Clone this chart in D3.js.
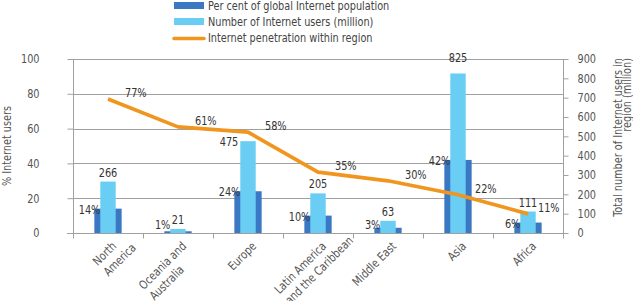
<!DOCTYPE html>
<html>
<head>
<meta charset="utf-8">
<script src="https://cdn.jsdelivr.net/npm/d3@7"></script>
<style>
  html, body { margin: 0; padding: 0; background: #fff; }
  svg { display: block; }
  svg text { font-family: 'DejaVu Sans Condensed', 'DejaVu Sans', sans-serif; font-stretch: condensed; }
</style>
</head>
<body>
<svg id="chart" width="633" height="301"></svg>
<script>
// ---- data ----
const categories = ["North America", "Oceania and Australia", "Europe", "Latin America and the Caribbean", "Middle East", "Asia", "Africa"];
const categoryLines = [["North", "America"], ["Oceania and", "Australia"], ["Europe"], ["Latin America", "and the Caribbean"], ["Middle East"], ["Asia"], ["Africa"]];
const shareOfGlobal = [14, 1, 24, 10, 3, 42, 6];          // % of global Internet population
const usersMillion = [266, 21, 475, 205, 63, 825, 111];    // number of Internet users (million)
const penetration = [77, 61, 58, 35, 30, 22, 11];          // Internet penetration within region (%)
const leftTicks = [0, 20, 40, 60, 80, 100];
const rightTicks = [0, 100, 200, 300, 400, 500, 600, 700, 800, 900];
const legendLabels = ["Per cent of global Internet population", "Number of Internet users (million)", "Internet penetration within region"];
const leftTitle = "% Internet users";
const rightTitleLines = ["Total number of Internet users in", "region (million)"];

// ---- styles ----
const C_DARK = "#3a78c3", C_LIGHT = "#69cdf4", C_ORANGE = "#f0961f";
const C_GRID = "#a0a0a0", C_TICK = "#555", C_LABEL = "#333";
const FS = 12, SQ = 0.9;   // font size, horizontal squeeze (condensed face)

const svg = d3.select("#chart");
const plot = { left: 73, right: 563, top: 59, bottom: 233 };

const x = d3.scaleBand().domain(categories).range([plot.left, plot.right]).padding(0);
const yL = d3.scaleLinear().domain([0, 100]).range([plot.bottom, plot.top]);
const yR = d3.scaleLinear().domain([0, 900]).range([plot.bottom, plot.top]);
const cx = c => x(c) + x.bandwidth() / 2;

function squeeze(sel) {
  sel.each(function () {
    const L = this.getComputedTextLength();
    d3.select(this).attr("textLength", L * SQ).attr("lengthAdjust", "spacingAndGlyphs");
  });
}

// gridlines
svg.append("g").selectAll("line").data(leftTicks.filter(d => d > 0)).join("line")
  .attr("x1", plot.left).attr("x2", plot.right)
  .attr("y1", d => Math.round(yL(d)) + 0.5).attr("y2", d => Math.round(yL(d)) + 0.5)
  .attr("stroke", C_GRID).attr("stroke-width", 1);

// left axis
const gL = svg.append("g").attr("transform", `translate(${plot.left + 0.5},0)`)
  .call(d3.axisLeft(yL).tickValues(leftTicks).tickSize(6).tickPadding(28));
// right axis
const gR = svg.append("g").attr("transform", `translate(${plot.right + 0.5},0)`)
  .call(d3.axisRight(yR).tickValues(rightTicks).tickSize(5).tickPadding(9));
// bottom axis (ticks at category boundaries)
const gB = svg.append("g").attr("transform", `translate(0,${plot.bottom + 0.5})`);
gB.append("line").attr("x1", plot.left - 6).attr("x2", plot.right + 5).attr("stroke", C_GRID);
gB.selectAll("line.t").data(d3.range(categories.length + 1)).join("line").attr("class", "t")
  .attr("x1", i => Math.round(plot.left + i * x.bandwidth()) + 0.5)
  .attr("x2", i => Math.round(plot.left + i * x.bandwidth()) + 0.5)
  .attr("y1", 0).attr("y2", 5).attr("stroke", C_GRID);

[gL, gR].forEach(g => {
  g.select(".domain").attr("stroke", C_GRID);
  g.selectAll(".tick line").attr("stroke", C_GRID);
  g.selectAll(".tick text").attr("fill", C_TICK).attr("font-size", FS)
    .style("font-family", "'DejaVu Sans Condensed', 'DejaVu Sans', sans-serif")
    .call(squeeze);
});
gL.select(".domain").attr("d", `M0,${plot.top}V${plot.bottom}`);
gR.select(".domain").attr("d", `M0,${plot.top}V${plot.bottom}`);

// bars
const bw = x.bandwidth();
const darkW = bw * 0.39, lightW = bw * 0.22;
svg.append("g").selectAll("rect").data(categories).join("rect")
  .attr("x", c => cx(c) - darkW / 2).attr("width", darkW)
  .attr("y", (c, i) => yL(shareOfGlobal[i])).attr("height", (c, i) => yL(0) - yL(shareOfGlobal[i]))
  .attr("fill", C_DARK);
svg.append("g").selectAll("rect").data(categories).join("rect")
  .attr("x", c => cx(c) - lightW / 2).attr("width", lightW)
  .attr("y", (c, i) => yR(usersMillion[i])).attr("height", (c, i) => yR(0) - yR(usersMillion[i]))
  .attr("fill", C_LIGHT);

// penetration line
const line = d3.line().x((d, i) => cx(categories[i])).y(d => yL(d));
svg.append("path").datum(penetration).attr("d", line)
  .attr("fill", "none").attr("stroke", C_ORANGE).attr("stroke-width", 3.7).attr("stroke-linejoin", "round");

const lbl = svg.append("g").attr("fill", C_LABEL).attr("font-size", FS);
// penetration labels
lbl.selectAll("text.pen").data(penetration).join("text").attr("class", "pen")
  .attr("x", (d, i) => cx(categories[i]) + (i === categories.length - 1 ? 10 : 17))
  .attr("y", d => yL(d) - 2)
  .text(d => d + "%").call(squeeze);
// share labels (left of dark bar)
lbl.selectAll("text.share").data(shareOfGlobal).join("text").attr("class", "share")
  .attr("text-anchor", "end")
  .attr("x", (d, i) => cx(categories[i]) - darkW / 2 + 6)
  .attr("y", d => Math.min(yL(d) + 5, plot.bottom - 4))
  .text(d => d + "%").call(squeeze);
// users labels (above light bar; Europe beside, Asia higher)
lbl.selectAll("text.users").data(usersMillion).join("text").attr("class", "users")
  .attr("text-anchor", (d, i) => categories[i] === "Europe" ? "end" : "middle")
  .attr("x", (d, i) => categories[i] === "Europe" ? cx(categories[i]) - lightW / 2 - 2 : cx(categories[i]))
  .attr("y", (d, i) => categories[i] === "Europe" ? yR(d) + 5 : yR(d) - (categories[i] === "Asia" ? 12 : 5))
  .text(d => d).call(squeeze);

// x category labels, rotated -45, left-aligned lines
categories.forEach((c, i) => {
  const g = svg.append("g").attr("transform", `translate(${cx(c) + 9},247) rotate(-45) scale(${SQ},1)`);
  const t = g.append("text").attr("fill", C_TICK).attr("font-size", FS);
  categoryLines[i].forEach((ln, j) => {
    t.append("tspan").attr("x", 0).attr("y", j * 15).text(ln);
  });
  const w1 = t.select("tspan").node().getComputedTextLength();
  t.attr("transform", `translate(${-w1},0)`);
});

// axis titles
svg.append("text").attr("transform", `translate(11,146) rotate(-90) scale(${SQ},1)`)
  .attr("text-anchor", "middle").attr("fill", C_TICK).attr("font-size", FS).text(leftTitle);
rightTitleLines.forEach((t, j) => {
  svg.append("text").attr("transform", `translate(${622 + j * 9},58) rotate(-90) scale(${SQ},1)`)
    .attr("text-anchor", "end").attr("fill", C_TICK).attr("font-size", FS).text(t);
});

// legend
const leg = svg.append("g");
legendLabels.forEach((t, j) => {
  const yc = 5.5 + j * 16;
  if (j < 2) {
    leg.append("rect").attr("x", 174).attr("y", yc - 3.5).attr("width", 30).attr("height", 7)
      .attr("fill", j === 0 ? C_DARK : C_LIGHT);
  } else {
    leg.append("line").attr("x1", 174).attr("x2", 204).attr("y1", yc + 1).attr("y2", yc + 1)
      .attr("stroke", C_ORANGE).attr("stroke-width", 3.5).attr("stroke-linecap", "round");
  }
  leg.append("text").attr("transform", `translate(208,${yc + 4.5}) scale(${SQ},1)`)
    .attr("fill", "#444").attr("font-size", FS).text(t);
});
</script>
</body>
</html>
